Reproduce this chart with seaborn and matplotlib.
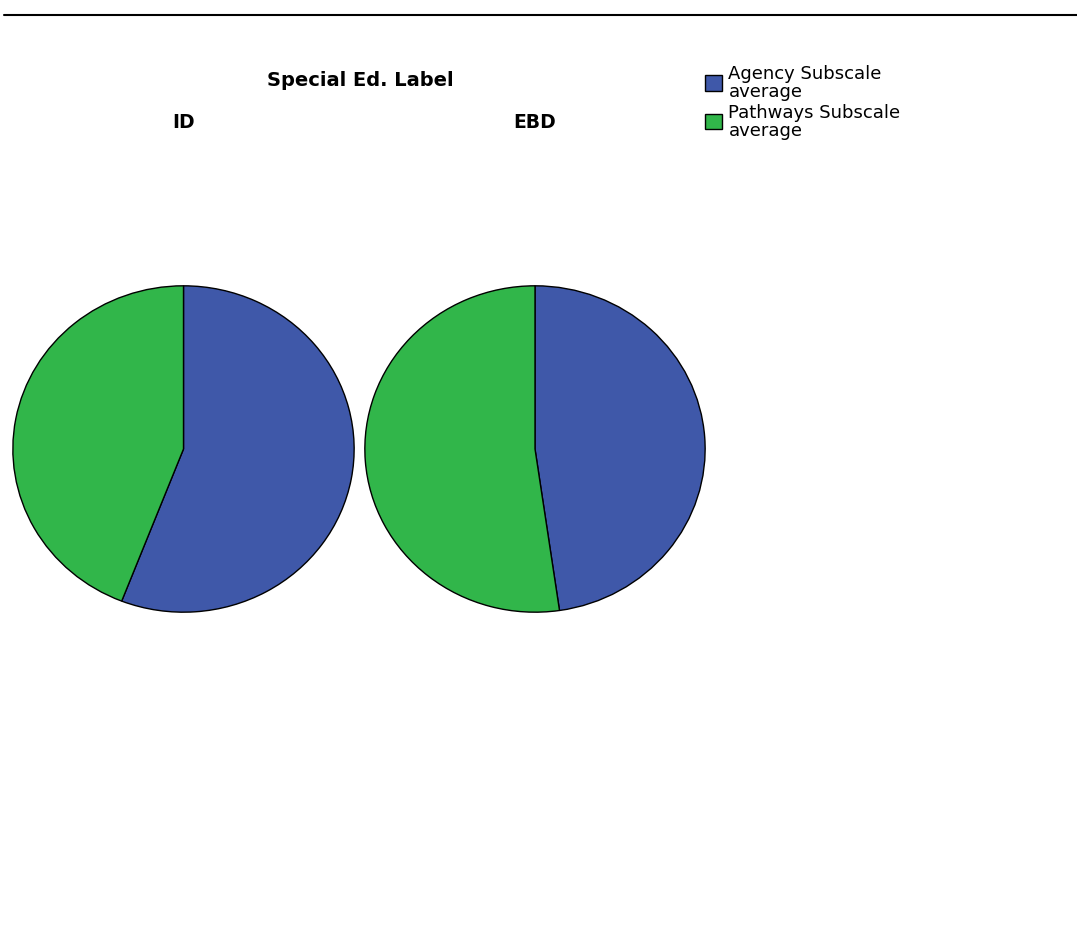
import matplotlib
matplotlib.use("Agg")
import matplotlib.pyplot as plt
from matplotlib.patches import Patch
import seaborn as sns

# 数据
groups = ["ID", "EBD"]
series = ["Agency Subscale\naverage", "Pathways Subscale\naverage"]
agency = [55.9, 47.7]
pathways = [44.1, 52.3]

sns.set_theme(style="white")
plt.rcParams['font.family'] = ['DejaVu Sans']
plt.rcParams['text.color'] = 'black'
colors = sns.color_palette(["#3F58A9", "#31B64A"])

W, H = 1077, 928
fig = plt.figure(figsize=(W / 100, H / 100), dpi=100)

# 每个饼图的像素位置 (左, 上, 宽, 高)
boxes = [(12, 286, 343, 328), (364, 286, 342, 328)]
for name, a, p, (x, y, w, h) in zip(groups, agency, pathways, boxes):
    ax = fig.add_axes([x / W, 1 - (y + h) / H, w / W, h / H])
    ax.pie([a, p], colors=colors, startangle=90, counterclock=False,
           radius=1, wedgeprops=dict(edgecolor="black", linewidth=1))
    ax.set_aspect("auto")
    ax.set_xlim(-1.005, 1.005)
    ax.set_ylim(-1.005, 1.005)
    ax.axis("off")
    fig.text((x + w / 2) / W, 1 - 122 / H, name, ha="center", va="center",
             fontsize=13.5, fontweight="bold", color="black")

fig.text(360 / W, 1 - 80 / H, "Special Ed. Label", ha="center", va="center",
         fontsize=14, fontweight="bold", color="black")

# 顶部横线
fig.add_artist(plt.Line2D([4 / W, 1], [1 - 16 / H] * 2, color="black", lw=1.5))

handles = [Patch(facecolor=c, edgecolor="black", label=s) for c, s in zip(colors, series)]
leg = fig.legend(handles=handles, loc="upper left", bbox_to_anchor=(705 / W, 1 - 65 / H),
                 frameon=False, fontsize=13, handlelength=0.95, handleheight=0.95,
                 handletextpad=0.35, labelspacing=0.15, borderpad=0, borderaxespad=0,
                 labelcolor="black")
for t in leg.get_texts():
    t.set_linespacing(1.0)

fig.savefig("out.png", dpi=100)
